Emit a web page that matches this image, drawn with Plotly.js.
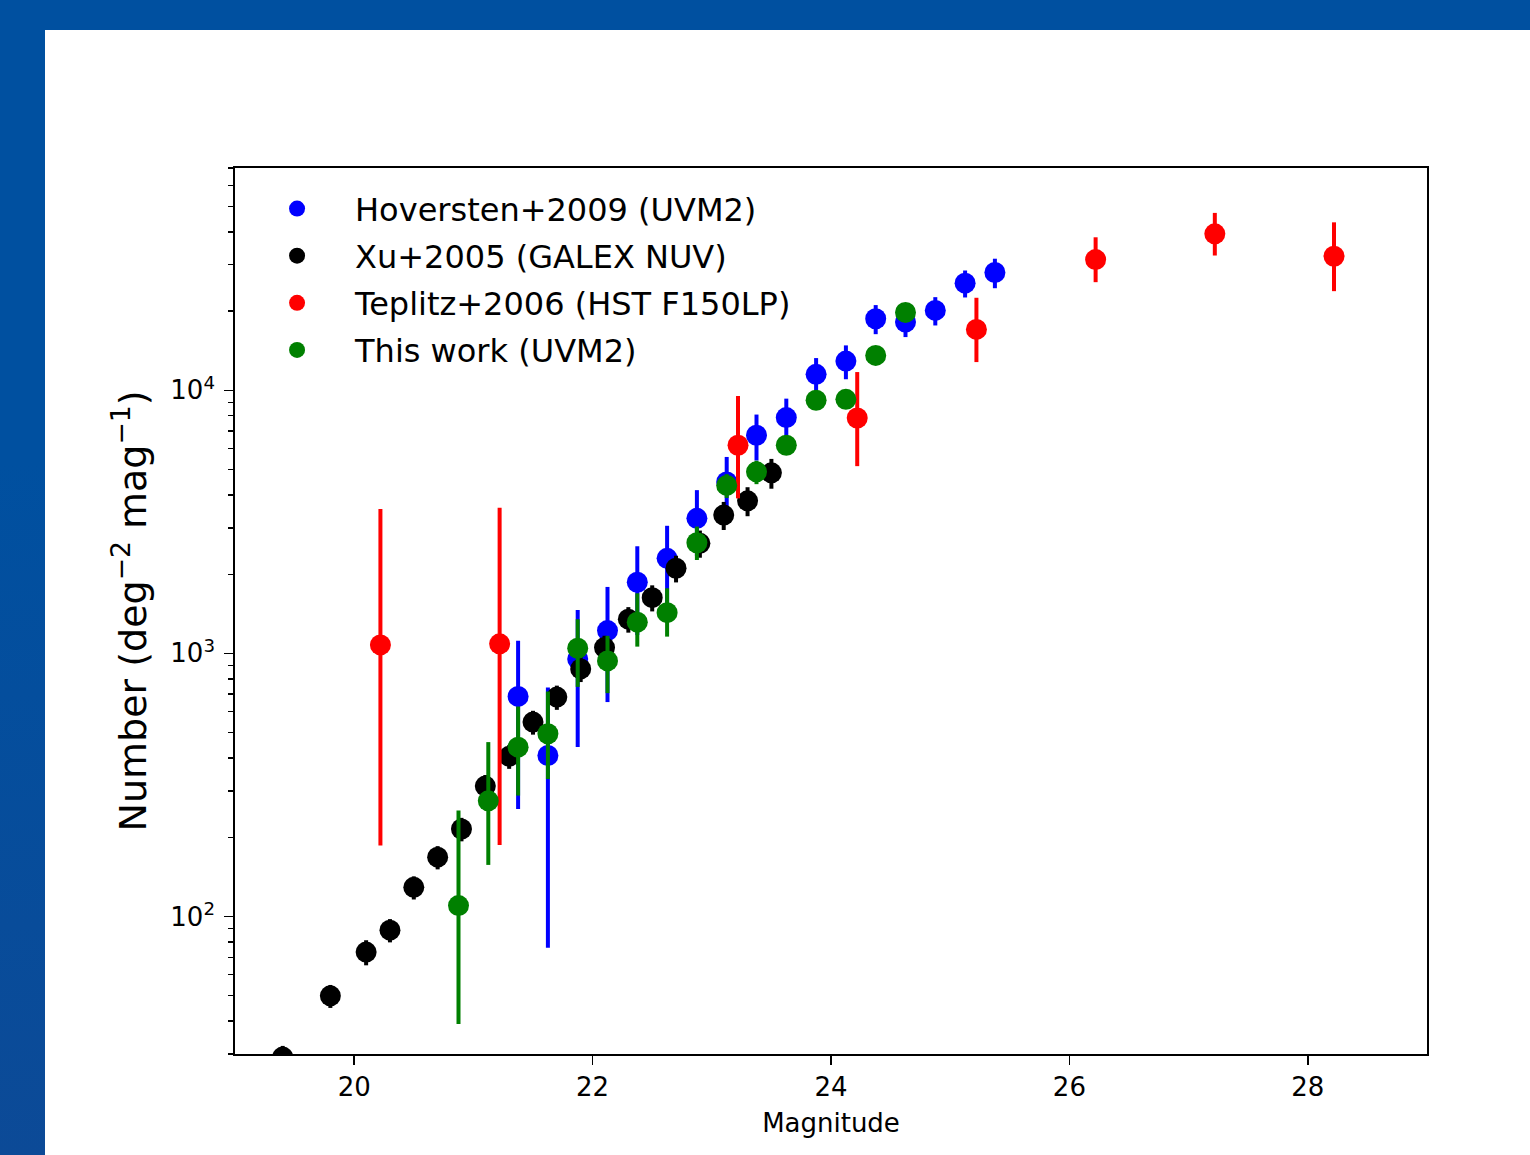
<!DOCTYPE html>
<html>
<head>
<meta charset="utf-8">
<script src="https://cdn.plot.ly/plotly-3.0.1.min.js"></script>
<style>
  html, body { margin: 0; padding: 0; }
  body { width: 1530px; height: 1155px; background: #0050a0; position: relative; overflow: hidden; }
  #leftbar { position: absolute; left: 0; top: 0; width: 45px; height: 1155px;
             background: linear-gradient(#0050a0 0%, #0050a0 40%, #0c4a97 100%); }
  #chart { position: absolute; left: 45px; top: 30px; width: 1485px; height: 1125px; background: #ffffff; }
</style>
</head>
<body>
<div id="leftbar"></div>
<div id="chart"></div>
<script>
// ---- Data ----
const hovMag = [21.375, 21.625, 21.875, 22.125, 22.375, 22.625, 22.875, 23.125, 23.375,
                23.625, 23.875, 24.125, 24.375, 24.625, 24.875, 25.125, 25.375];
const hovN   = [686, 409, 951, 1221, 1864, 2298, 3260, 4487, 6748,
                7877, 11500, 12917, 18715, 18165, 20120, 25540, 28040];
const hovErr = [430, 333, 510, 568, 690, 757, 914, 1094, 1340,
                1420, 1760, 1900, 2370, 2230, 2480, 3000, 3600];

const xuMag = [19.4, 19.8, 20.1, 20.3, 20.5, 20.7, 20.9, 21.1, 21.3, 21.5,
               21.7, 21.9, 22.1, 22.3, 22.5, 22.7, 22.9, 23.1, 23.3, 23.5];
const xuN   = [29.2, 49.9, 73.2, 88.7, 129, 168, 215, 313, 406, 548,
               682, 873, 1052, 1349, 1629, 2106, 2620, 3355, 3802, 4856];
const xuErr = [3, 5, 8, 9, 13, 17, 22, 32, 42, 57,
               72, 95, 115, 150, 185, 245, 310, 410, 480, 630];

const tepMag = [20.22, 21.22, 23.22, 24.22, 25.22, 26.22, 27.22, 28.22];
const tepN   = [1077, 1087, 6184, 7849, 17040, 31400, 39330, 32340];
const tepErrPlus  = [2458, 2488, 3330, 3884, 5440, 6770, 7920, 11170];
const tepErrMinus = [891, 900, 2300, 2700, 4236, 5630, 6790, 8520];

const twMag = [20.875, 21.125, 21.375, 21.625, 21.875, 22.125, 22.375, 22.625,
               22.875, 23.125, 23.375, 23.625, 23.875, 24.125, 24.375, 24.625];
const twN   = [110, 275, 440, 495, 1046, 936, 1314, 1428,
               2634, 4349, 4898, 6184, 9164, 9243, 13577, 19770];
const twErrPlus  = [143, 185, 188, 221, 303, 230, 378, 340,
                    400, 450, 500, 400, 300, 300, 400, 500];
const twErrMinus = [71, 118, 152, 162, 300, 230, 253, 270,
                    370, 450, 500, 400, 300, 300, 400, 500];

const seriesNames = ['Hoversten+2009 (UVM2)', 'Xu+2005 (GALEX NUV)',
                     'Teplitz+2006 (HST F150LP)', 'This work (UVM2)'];
const xTicks = [20, 22, 24, 26, 28];
const yTicks = [100, 1000, 10000];
const yTickText = ['10<sup>2</sup>', '10<sup>3</sup>', '10<sup>4</sup>'];

// ---- Chart ----
const FONT = 'DejaVu Sans, Liberation Sans, sans-serif';
const MS = 21, EW = 4;

function trace(name, x, y, color, ep, em, group) {
  const err = {type: 'data', array: ep, visible: true, color: color, thickness: EW, width: 0};
  if (em) { err.symmetric = false; err.arrayminus = em; }
  return {
    type: 'scatter', mode: 'markers', name: name, x: x, y: y,
    legendgroup: group,
    marker: {color: color, size: MS, line: {width: 0}},
    error_y: err
  };
}

const data = [
  trace(seriesNames[0], hovMag, hovN, '#0000ff', hovErr, null, 'a'),
  trace(seriesNames[1], xuMag, xuN, '#000000', xuErr, null, 'b'),
  trace(seriesNames[2], tepMag, tepN, '#ff0000', tepErrPlus, tepErrMinus, 'c'),
  trace(seriesNames[3], twMag, twN, '#008000', twErrPlus, twErrMinus, 'd')
];

const minorVals = [];
for (let e = 1; e <= 4; e++) {
  for (let k = 2; k <= 9; k++) minorVals.push(k * Math.pow(10, e));
}

const layout = {
  width: 1485, height: 1125,
  margin: {l: 190, r: 103, t: 138, b: 101, pad: 0},
  paper_bgcolor: '#ffffff', plot_bgcolor: '#ffffff',
  font: {family: FONT, color: '#000000'},
  showlegend: true,
  legend: {
    x: 0.0034, y: 0.985, xanchor: 'left', yanchor: 'top',
    bgcolor: 'rgba(255,255,255,0)', borderwidth: 0,
    font: {family: FONT, size: 32, color: '#000000'},
    traceorder: 'grouped', tracegroupgap: 2.5, itemwidth: 106, itemsizing: 'trace'
  },
  xaxis: {
    range: [19, 29], tickmode: 'array', tickvals: xTicks,
    ticks: 'outside', ticklen: 9, tickwidth: 1.5, tickcolor: '#000',
    showline: true, linecolor: '#000', linewidth: 1.8, mirror: true,
    showgrid: false, zeroline: false,
    tickfont: {family: FONT, size: 26},
    ticklabelstandoff: 0,
    title: {text: 'Magnitude', font: {family: FONT, size: 26}, standoff: 13}
  },
  yaxis: {
    type: 'log', range: [Math.log10(30), Math.log10(70000)],
    tickmode: 'array', tickvals: yTicks, ticktext: yTickText,
    ticks: 'outside', ticklen: 9, tickwidth: 1.5, tickcolor: '#000',
    minor: {tickmode: 'array', tickvals: minorVals, ticks: 'outside', ticklen: 5,
            tickwidth: 1.3, tickcolor: '#000', showgrid: false},
    showline: true, linecolor: '#000', linewidth: 1.8, mirror: true,
    showgrid: false, zeroline: false,
    tickfont: {family: FONT, size: 26},
    ticklabelstandoff: 4,
    title: {text: 'Number (deg<sup>−2</sup> mag<sup>−1</sup>)', font: {family: FONT, size: 38}, standoff: 12}
  }
};

Plotly.newPlot('chart', data, layout, {displayModeBar: false, staticPlot: true});
</script>
</body>
</html>
